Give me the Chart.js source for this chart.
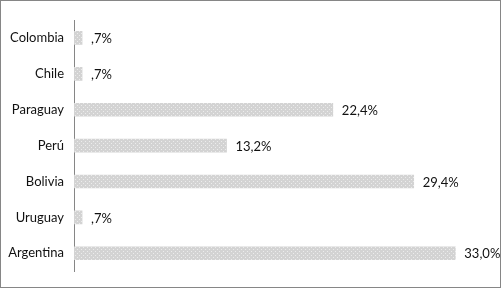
<!DOCTYPE html>
<html>
<head>
<meta charset="utf-8">
<script src="https://cdn.jsdelivr.net/npm/chart.js@4"></script>
<style>
  html, body { margin: 0; padding: 0; background: #fff; }
  #wrap { width: 502px; height: 289px; position: relative; }
</style>
</head>
<body>
<div id="wrap"><canvas id="myChart"></canvas></div>
<script>
const paises = ["Colombia", "Chile", "Paraguay", "Perú", "Bolivia", "Uruguay", "Argentina"];
const porcentajes = [0.7, 0.7, 22.4, 13.2, 29.4, 0.7, 33.0];
const etiquetas = [",7%", ",7%", "22,4%", "13,2%", "29,4%", ",7%", "33,0%"];

// patron punteado de las barras
const pc = document.createElement("canvas");
pc.width = 4;
pc.height = 4;
const px = pc.getContext("2d");
px.fillStyle = "#d3d3d3";
px.fillRect(0, 0, 4, 4);
px.fillStyle = "#ececec";
px.fillRect(1, 1, 1, 1);
px.fillRect(3, 3, 1, 1);
const patron = px.createPattern(pc, "repeat");

// etiquetas de valor y marco exterior
const extras = {
  id: "extras",
  afterDatasetsDraw(chart) {
    const ctx = chart.ctx;
    const meta = chart.getDatasetMeta(0);
    ctx.save();
    ctx.font = "13px Lato";
    ctx.fillStyle = "#111";
    ctx.textAlign = "left";
    ctx.textBaseline = "middle";
    meta.data.forEach(function (bar, i) {
      ctx.fillText(etiquetas[i], bar.x + 9, bar.y + 1);
    });
    ctx.strokeStyle = "#868686";
    ctx.lineWidth = 1;
    ctx.strokeRect(0.5, 0.5, 500, 287);
    ctx.restore();
  },
};

new Chart(document.getElementById("myChart"), {
  type: "bar",
  data: {
    labels: paises,
    datasets: [
      {
        data: porcentajes,
        backgroundColor: patron,
        borderWidth: 0,
        barThickness: 13,
      },
    ],
  },
  options: {
    indexAxis: "y",
    responsive: true,
    maintainAspectRatio: false,
    animation: false,
    layout: { padding: { top: 20, bottom: 15, left: 0, right: 12 } },
    scales: {
      x: {
        display: false,
        min: 0,
        max: 36,
      },
      y: {
        afterFit: function (s) { s.width = 74; },
        grid: { display: false, drawTicks: false },
        border: { display: true, color: "#868686", width: 1 },
        ticks: {
          color: "#111",
          padding: 10,
          font: { size: 13, family: "Lato" },
        },
      },
    },
    plugins: {
      legend: { display: false },
      tooltip: { enabled: false },
    },
  },
  plugins: [extras],
});
</script>
</body>
</html>
